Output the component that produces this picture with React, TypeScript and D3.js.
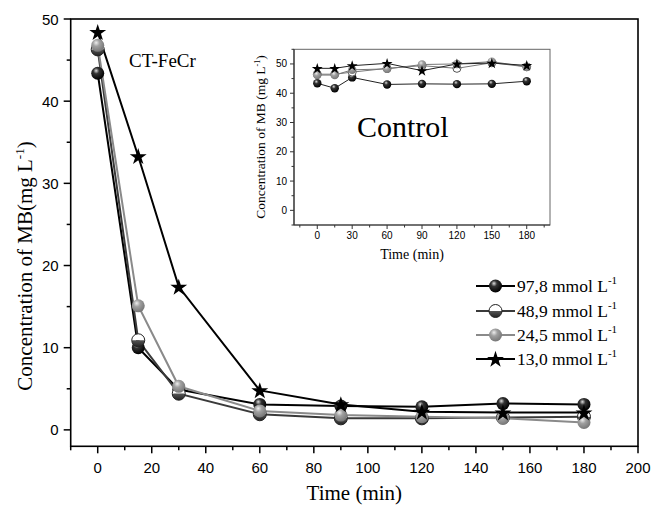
import React from "react";
import * as d3 from "d3";

// sampling times (min)
const times = [0, 15, 30, 60, 90, 120, 150, 180];

// CT-FeCr main series (mg L-1)
const c978 = [43.4, 10.0, 4.9, 3.1, 2.9, 2.8, 3.2, 3.1];
const c489 = [46.3, 10.9, 4.4, 1.9, 1.4, 1.4, 1.5, 1.6];
const c245 = [46.8, 15.1, 5.3, 2.3, 1.8, 1.6, 1.4, 0.9];
const c130 = [48.4, 33.3, 17.4, 4.8, 3.1, 2.2, 2.1, 2.1];

// control inset series
const k978 = [43.4, 41.7, 45.4, 43.0, 43.2, 43.1, 43.2, 44.1];
const k489 = [46.5, 46.5, 47.2, 48.5, 49.4, 48.5, 50.4, 49.0];
const k245 = [46.2, 46.2, 48.0, 48.3, 49.8, 50.0, 50.8, 49.0];
const k130 = [48.5, 48.5, 49.4, 50.2, 47.7, 50.0, 50.3, 49.5];

const legendLabels = ["97,8 mmol L", "48,9 mmol L", "24,5 mmol L", "13,0 mmol L"];
const mainXTicks = [0, 20, 40, 60, 80, 100, 120, 140, 160, 180, 200];
const mainYTicks = [0, 10, 20, 30, 40, 50];
const insetXTicks = [0, 30, 60, 90, 120, 150, 180];
const insetYTicks = [0, 10, 20, 30, 40, 50];

const serif = "'Liberation Serif', 'DejaVu Serif', serif";
const sans = "'Liberation Sans', Arial, sans-serif";

type Kind = "black" | "half" | "gray" | "star";
const kinds: Kind[] = ["black", "half", "gray", "star"];
const lineColors = ["#000", "#3a3a3a", "#8a8a8a", "#000"];

function Marker({ kind, x, y, r }: { kind: Kind; x: number; y: number; r: number }) {
  if (kind === "star") {
    const d = d3.symbol().type(d3.symbolStar).size(r * r * 2.1)();
    return <path d={d || ""} transform={`translate(${x},${y + r * 0.1})`} fill="#000" />;
  }
  if (kind === "half") {
    return (
      <g transform={`translate(${x},${y})`}>
        <path d={`M${-r},0 A${r},${r} 0 0 1 ${r},0 Z`} fill="#fff" />
        <path d={`M${-r},0 A${r},${r} 0 0 0 ${r},0 Z`} fill="url(#gHalf)" />
        <circle r={r} fill="none" stroke="#222" strokeWidth={1} />
      </g>
    );
  }
  return <circle cx={x} cy={y} r={r} fill={kind === "black" ? "url(#gBlack)" : "url(#gGray)"} />;
}

export default function App() {
  const x = d3.scaleLinear().domain([-10, 200]).range([70.7, 638]);
  const y = d3.scaleLinear().domain([-2, 50]).range([446.3, 19]);
  const ix = d3.scaleLinear().domain([-20, 200]).range([294, 550]);
  const iy = d3.scaleLinear().domain([-5, 55]).range([225, 49.3]);

  const main = [c978, c489, c245, c130];
  const ctrl = [k978, k489, k245, k130];

  const line = d3.line<number>().x((_, i) => x(times[i])).y((d) => y(d));
  const iline = d3.line<number>().x((_, i) => ix(times[i])).y((d) => iy(d));

  const xMinor = d3.range(-10, 201, 10);
  const yMinor = d3.range(0, 51, 5);
  const ixMinor = d3.range(-15, 196, 15);
  const iyMinor = d3.range(-5, 56, 5);

  const [x0, x1] = x.range();
  const [y0, y1] = y.range();
  const [ix0, ix1] = ix.range();
  const [iy0, iy1] = iy.range();

  const legY = [286, 311, 335, 359];

  return (
    <svg width={652} height={506} style={{ position: "absolute", left: 0, top: 0, background: "#fff" }}>
      <defs>
        <radialGradient id="gBlack" cx="0.4" cy="0.35" r="0.65" fx="0.38" fy="0.3">
          <stop offset="0" stopColor="#ddd" />
          <stop offset="0.35" stopColor="#333" />
          <stop offset="1" stopColor="#000" />
        </radialGradient>
        <radialGradient id="gGray" cx="0.4" cy="0.35" r="0.65" fx="0.38" fy="0.3">
          <stop offset="0" stopColor="#eee" />
          <stop offset="0.4" stopColor="#a0a0a0" />
          <stop offset="1" stopColor="#777" />
        </radialGradient>
        <linearGradient id="gHalf" x1="0" y1="0" x2="0" y2="1">
          <stop offset="0" stopColor="#555" />
          <stop offset="1" stopColor="#222" />
        </linearGradient>
      </defs>

      {/* main frame */}
      <rect x={x0} y={y1} width={x1 - x0} height={y0 - y1} fill="none" stroke="#000" strokeWidth={1.6} />

      {/* x axis ticks */}
      {xMinor.map((t) => (
        <line key={"xm" + t} x1={x(t)} x2={x(t)} y1={y0} y2={y0 + (t % 20 === 0 ? 7 : 4)} stroke="#000" strokeWidth={1.5} />
      ))}
      {mainXTicks.map((t) => (
        <text key={"xl" + t} x={x(t)} y={y0 + 27} textAnchor="middle" fontFamily={sans} fontSize={15}>
          {t}
        </text>
      ))}
      {/* y axis ticks */}
      {yMinor.map((t) => (
        <line key={"ym" + t} x1={x0} x2={x0 - (t % 10 === 0 ? 7 : 4)} y1={y(t)} y2={y(t)} stroke="#000" strokeWidth={1.5} />
      ))}
      {mainYTicks.map((t) => (
        <text key={"yl" + t} x={x0 - 12} y={y(t) + 5.5} textAnchor="end" fontFamily={sans} fontSize={15}>
          {t}
        </text>
      ))}

      <text x={(x0 + x1) / 2} y={500} textAnchor="middle" fontFamily={serif} fontSize={21}>
        Time (min)
      </text>
      <text transform="translate(32,266) rotate(-90)" textAnchor="middle" fontFamily={serif} fontSize={21}>
        Concentration of MB(mg L<tspan dy={-8} fontSize={13}>-1</tspan>
        <tspan dy={8}>)</tspan>
      </text>
      <text x={129} y={67} fontFamily={serif} fontSize={19}>
        CT-FeCr
      </text>

      {/* main series */}
      {main.map((s, k) => (
        <path key={"l" + k} d={line(s) || ""} fill="none" stroke={lineColors[k]} strokeWidth={2} />
      ))}
      {main.map((s, k) =>
        s.map((v, i) => <Marker key={`m${k}-${i}`} kind={kinds[k]} x={x(times[i])} y={y(v)} r={6.5} />)
      )}

      {/* legend */}
      {legendLabels.map((lab, k) => (
        <g key={"lg" + k}>
          <line x1={476} x2={515} y1={legY[k]} y2={legY[k]} stroke={lineColors[k]} strokeWidth={2} />
          <Marker kind={kinds[k]} x={495.5} y={legY[k]} r={6.5} />
          <text x={517} y={legY[k] + 6} fontFamily={serif} fontSize={17.5}>
            {lab}
            <tspan dy={-8} fontSize={11}>-1</tspan>
          </text>
        </g>
      ))}

      {/* inset */}
      <rect x={ix0} y={iy1} width={ix1 - ix0} height={iy0 - iy1} fill="none" stroke="#666" strokeWidth={1} />
      <line x1={ix0} x2={ix1} y1={iy0} y2={iy0} stroke="#333" strokeWidth={1.2} />
      <line x1={ix0} x2={ix0} y1={iy0} y2={iy1} stroke="#333" strokeWidth={1.2} />
      {ixMinor.map((t) => (
        <line key={"ixm" + t} x1={ix(t)} x2={ix(t)} y1={iy0} y2={iy0 + (t % 30 === 0 ? 4 : 2.5)} stroke="#333" strokeWidth={1} />
      ))}
      {insetXTicks.map((t) => (
        <text key={"ixl" + t} x={ix(t)} y={iy0 + 14} textAnchor="middle" fontFamily={sans} fontSize={10}>
          {t}
        </text>
      ))}
      {iyMinor.map((t) => (
        <line key={"iym" + t} x1={ix0} x2={ix0 - (t % 10 === 0 ? 4 : 2.5)} y1={iy(t)} y2={iy(t)} stroke="#333" strokeWidth={1} />
      ))}
      {insetYTicks.map((t) => (
        <text key={"iyl" + t} x={ix0 - 7} y={iy(t) + 3.5} textAnchor="end" fontFamily={sans} fontSize={10}>
          {t}
        </text>
      ))}
      <text x={(ix0 + ix1) / 2 - 10} y={259} textAnchor="middle" fontFamily={serif} fontSize={14}>
        Time (min)
      </text>
      <text transform="translate(265,137) rotate(-90)" textAnchor="middle" fontFamily={serif} fontSize={13.5}>
        Concentration of MB (mg L<tspan dy={-5} fontSize={8}>-1</tspan>
        <tspan dy={5}>)</tspan>
      </text>
      <text x={357} y={137} fontFamily={serif} fontSize={30}>
        Control
      </text>

      {ctrl.map((s, k) => (
        <path key={"il" + k} d={iline(s) || ""} fill="none" stroke={k === 0 || k === 3 ? "#222" : "#777"} strokeWidth={1} />
      ))}
      {ctrl.map((s, k) =>
        s.map((v, i) =>
          k === 1 ? (
            <circle key={`im${k}-${i}`} cx={ix(times[i])} cy={iy(v)} r={4} fill="#fff" stroke="#555" strokeWidth={1} />
          ) : (
            <Marker key={`im${k}-${i}`} kind={kinds[k]} x={ix(times[i])} y={iy(v)} r={4.2} />
          )
        )
      )}
    </svg>
  );
}
